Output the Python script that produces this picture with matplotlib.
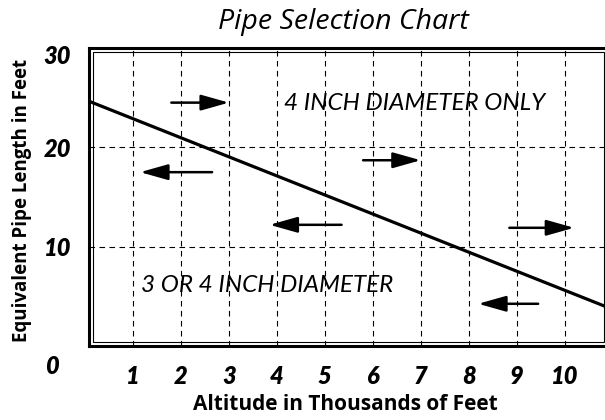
import matplotlib
matplotlib.use("Agg")
from matplotlib import pyplot as plt
from matplotlib.patches import Rectangle
from matplotlib.transforms import ScaledTranslation

plt.rcParams["font.family"] = ["Lato", "DejaVu Sans"]
label_font = ["Open Sans", "DejaVu Sans"]

# boundary line between the two regions
line_x = [0, 11]
line_y = [24.8, 3.7]

# direction arrows (tail -> tip)
arrow_tail_x = [1.8, 2.65, 5.8, 5.35, 8.85, 9.45]
arrow_tip_x = [3.0, 1.15, 7.0, 3.85, 10.2, 8.2]
arrow_y = [24.5, 17.5, 18.7, 12.2, 11.9, 4.25]

region_labels = ["4 INCH DIAMETER ONLY", "3 OR 4 INCH DIAMETER"]
region_x = [6.88, 3.79]
region_y = [24.45, 6.05]

x_ticks = [1, 2, 3, 4, 5, 6, 7, 8, 9, 10]
y_ticks = [10, 20, 30]

W, H = 605, 420
fig = plt.figure(figsize=(6.05, 4.2), dpi=100)
ax = fig.add_axes([89 / W, 74 / H, (608 - 89) / W, 298 / H])

ax.plot(line_x, line_y, color="black", lw=2.3, solid_capstyle="butt", zorder=3)

for x0, x1, y in zip(arrow_tail_x, arrow_tip_x, arrow_y):
    ax.annotate("", xy=(x1, y), xytext=(x0, y),
                arrowprops=dict(arrowstyle="-|>,head_length=1.7,head_width=0.48",
                                mutation_scale=10, lw=1.8, color="black",
                                shrinkA=0, shrinkB=0), zorder=4)

for txt, x, y in zip(region_labels, region_x, region_y):
    ax.text(x, y, txt, ha="center", va="center", fontsize=17.5, style="italic")

ax.set_xlim(0.083, 10.907)
ax.set_ylim(0, 30)
ax.set_xticks(x_ticks)
ax.set_yticks(y_ticks)
ax.set_xticklabels([str(t) for t in x_ticks], fontsize=17, fontweight="heavy", style="italic")
ax.set_yticklabels([str(t) for t in y_ticks], fontsize=17, fontweight="heavy", style="italic")
ax.tick_params(axis="x", length=0, pad=14)
ax.tick_params(axis="y", length=0, pad=13)
# top label sits a little below the frame
top_lab = ax.get_yticklabels()[-1]
top_lab.set_transform(top_lab.get_transform() + ScaledTranslation(0, -7 / 100, fig.dpi_scale_trans))

ax.grid(True, color="black", lw=0.8, linestyle=(0, (5, 4)))
ax.set_axisbelow(True)

for s in ax.spines.values():
    s.set_linewidth(2.2)

# thin inner frame line
ax.add_patch(Rectangle((4 / 519, 4 / 298), 1 - 8 / 519, 1 - 8 / 298, transform=ax.transAxes,
                       fill=False, lw=0.8, edgecolor="black", clip_on=False, zorder=5))

fig.text(52 / W, 1 - 366 / H, "0", ha="center", va="center", fontsize=17,
         fontweight="heavy", style="italic")
fig.text(343 / W, 1 - 22 / H, "Pipe Selection Chart", ha="center", va="center",
         fontsize=20.5, style="italic", family=label_font)
fig.text(345 / W, 1 - 405 / H, "Altitude in Thousands of Feet", ha="center", va="center",
         fontsize=15, fontweight="bold", family=label_font)
fig.text(22 / W, 1 - 200 / H, "Equivalent Pipe Length in Feet", ha="center", va="center",
         fontsize=13.5, fontweight="bold", rotation=90, family=label_font)

fig.savefig("out.png", dpi=100)
